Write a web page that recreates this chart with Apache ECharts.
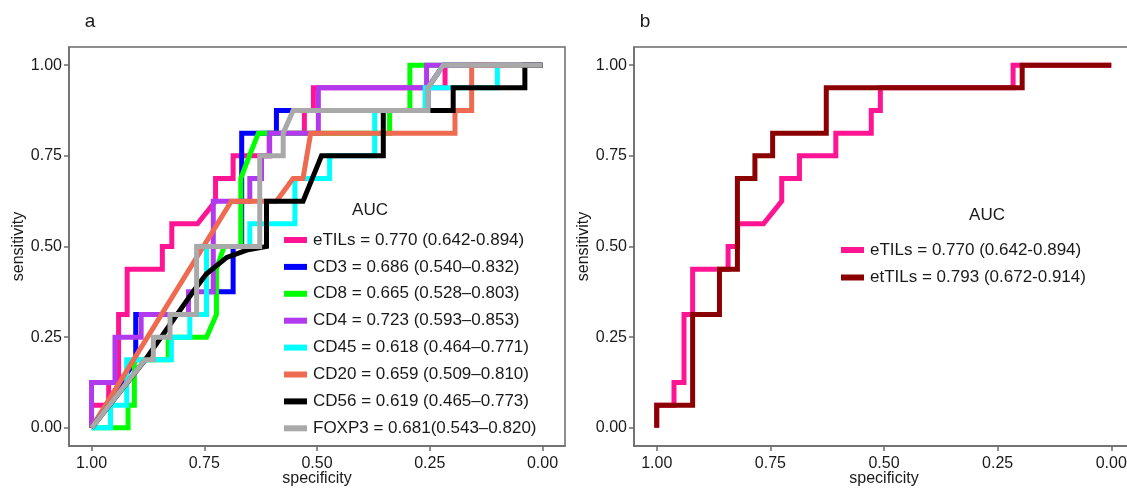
<!DOCTYPE html>
<html>
<head>
<meta charset="utf-8">
<script src="https://cdn.jsdelivr.net/npm/echarts@6/dist/echarts.min.js"></script>
<style>
html,body{margin:0;padding:0;background:#fff;}
#chart{width:1127px;height:488px;}
</style>
</head>
<body>
<div id="chart"></div>
<script>
// ---- tick labels ----
const tickValues = [0, 0.25, 0.5, 0.75, 1];

// ---- legend labels ----
const labelETILs = "eTILs = 0.770 (0.642-0.894)";
const labelCD3 = "CD3 = 0.686 (0.540\u20130.832)";
const labelCD8 = "CD8 = 0.665 (0.528\u20130.803)";
const labelCD4 = "CD4 = 0.723 (0.593\u20130.853)";
const labelCD45 = "CD45 = 0.618 (0.464\u20130.771)";
const labelCD20 = "CD20 = 0.659 (0.509\u20130.810)";
const labelCD56 = "CD56 = 0.619 (0.465\u20130.773)";
const labelFOXP3 = "FOXP3 = 0.681(0.543\u20130.820)";
const labelEtTILs = "etTILs = 0.793 (0.672-0.914)";

// ---- ROC curves: specificity / sensitivity ----
const eTILsSpec = [1.000,1.000,0.962,0.962,0.940,0.940,0.921,0.921,0.843,0.843,0.822,0.822,0.765,0.725,0.725,0.686,0.686,0.606,0.606,0.528,0.528,0.508,0.508,0.216,0.216,0.000];
const eTILsSens = [0,0.0625,0.0625,0.125,0.125,0.3125,0.3125,0.4375,0.4375,0.5,0.5,0.5625,0.5625,0.625,0.6875,0.6875,0.75,0.75,0.8125,0.8125,0.875,0.875,0.9375,0.9375,1,1];

const cd3Spec = [1.000,0.902,0.902,0.745,0.745,0.686,0.686,0.667,0.667,0.590,0.590,0.254,0.254,0.220,0.000];
const cd3Sens = [0,0.1875,0.3125,0.3125,0.375,0.375,0.5,0.5,0.8125,0.8125,0.875,0.875,0.9375,1,1];

const cd8Spec = [1.000,0.919,0.919,0.905,0.905,0.830,0.830,0.745,0.723,0.723,0.706,0.669,0.669,0.650,0.630,0.339,0.339,0.294,0.294,0.000];
const cd8Sens = [0,0,0.0625,0.0625,0.1875,0.1875,0.25,0.25,0.3125,0.4375,0.5,0.5,0.6875,0.75,0.8125,0.8125,0.875,0.875,1,1];

const cd4Spec = [1.000,1.000,0.948,0.948,0.890,0.890,0.785,0.785,0.730,0.730,0.649,0.649,0.623,0.623,0.605,0.605,0.497,0.497,0.257,0.257,0.000];
const cd4Sens = [0,0.125,0.125,0.25,0.25,0.3125,0.3125,0.375,0.375,0.625,0.625,0.6875,0.6875,0.75,0.75,0.8125,0.8125,0.9375,0.9375,1,1];

const cd45Spec = [1.000,0.958,0.958,0.922,0.922,0.823,0.823,0.782,0.782,0.745,0.745,0.649,0.649,0.549,0.549,0.472,0.472,0.372,0.372,0.260,0.260,0.100,0.100,0.000];
const cd45Sens = [0,0,0.0625,0.0625,0.1875,0.1875,0.25,0.25,0.3125,0.3125,0.5,0.5,0.5625,0.5625,0.6875,0.6875,0.75,0.75,0.875,0.875,0.9375,0.9375,1,1];

const cd20Spec = [1.000,0.690,0.590,0.553,0.531,0.514,0.194,0.194,0.157,0.157,0.000];
const cd20Sens = [0,0.625,0.625,0.6875,0.6875,0.8125,0.8125,0.875,0.875,1,1];

const cd56Spec = [1.000,0.881,0.775,0.745,0.700,0.656,0.612,0.612,0.531,0.490,0.353,0.353,0.198,0.198,0.039,0.039,0.000];
const cd56Sens = [0,0.1875,0.375,0.425,0.47,0.49,0.5,0.625,0.625,0.75,0.75,0.875,0.875,0.9375,0.9375,1,1];

const foxp3Spec = [1.000,0.882,0.863,0.863,0.826,0.826,0.767,0.767,0.627,0.627,0.575,0.575,0.553,0.254,0.254,0.220,0.000];
const foxp3Sens = [0,0.1875,0.1875,0.25,0.25,0.3125,0.3125,0.5,0.5,0.75,0.75,0.8125,0.875,0.875,0.9375,1,1];

const etTILsSpec = [1.000,1.000,0.921,0.921,0.862,0.862,0.8225,0.8225,0.784,0.784,0.745,0.745,0.627,0.627,0.196,0.196,0.000];
const etTILsSens = [0,0.0625,0.0625,0.3125,0.3125,0.4375,0.4375,0.6875,0.6875,0.75,0.75,0.8125,0.8125,0.9375,0.9375,1,1];

// ---- build ----
const FONT = 'Arial, "Liberation Sans", Helvetica, sans-serif';
const frameColor = '#6b6b6b';
const textColor = '#1a1a1a';

function pts(spec, sens) { return spec.map((s, i) => [s, sens[i]]); }

function line(name, spec, sens, color, gi) {
  return {
    type: 'line', name: name, xAxisIndex: gi, yAxisIndex: gi,
    data: pts(spec, sens), showSymbol: false, symbol: 'none',
    lineStyle: { color: color, width: 5, join: 'miter', cap: 'butt' },
    itemStyle: { color: color },
    emphasis: { disabled: true }, animation: false
  };
}

function xAx(gi) {
  return {
    gridIndex: gi, type: 'value', inverse: true, min: -0.05, max: 1.05,
    axisLine: { show: true, onZero: false, lineStyle: { color: frameColor, width: 1.5 } },
    axisTick: { show: true, customValues: tickValues, length: 5, lineStyle: { color: frameColor, width: 1.5 } },
    axisLabel: { customValues: tickValues, formatter: v => v.toFixed(2), fontSize: 16, color: textColor, margin: 10, fontFamily: FONT },
    splitLine: { show: false },
    name: 'specificity', nameLocation: 'middle', nameGap: 33, nameMoveOverlap: false,
    nameTextStyle: { fontSize: 16, color: textColor, fontFamily: FONT, verticalAlign: 'middle' }
  };
}
function yAx(gi) {
  return {
    gridIndex: gi, type: 'value', min: -0.05, max: 1.05,
    axisLine: { show: true, onZero: false, lineStyle: { color: frameColor, width: 1.5 } },
    axisTick: { show: true, customValues: tickValues, length: 5, lineStyle: { color: frameColor, width: 1.5 } },
    axisLabel: { customValues: tickValues, formatter: v => v.toFixed(2), fontSize: 16, color: textColor, margin: 7, fontFamily: FONT },
    splitLine: { show: false },
    name: 'sensitivity', nameLocation: 'middle', nameGap: 42, nameMoveOverlap: false,
    nameTextStyle: { fontSize: 16, color: textColor, fontFamily: FONT }
  };
}

const legendCommon = {
  orient: 'vertical', itemWidth: 23, itemHeight: 6, icon: 'rect',
  selectedMode: false,
  textStyle: { fontSize: 17, color: textColor, fontFamily: FONT, lineHeight: 20, padding: [0, 0, 0, 1] }
};

const option = {
  animation: false,
  backgroundColor: '#ffffff',
  grid: [
    { left: 69, top: 47, width: 496, height: 399, show: true, borderColor: frameColor, borderWidth: 1.5, backgroundColor: 'transparent', outerBoundsMode: 'none', containLabel: false },
    { left: 634, top: 47, width: 500, height: 399, show: true, borderColor: frameColor, borderWidth: 1.5, backgroundColor: 'transparent', outerBoundsMode: 'none', containLabel: false }
  ],
  xAxis: [xAx(0), xAx(1)],
  yAxis: [yAx(0), yAx(1)],
  legend: [
    Object.assign({}, legendCommon, {
      left: 279, top: 225, itemGap: 6.9,
      data: [labelETILs, labelCD3, labelCD8, labelCD4, labelCD45, labelCD20, labelCD56, labelFOXP3]
    }),
    Object.assign({}, legendCommon, {
      left: 836, top: 235, itemGap: 7.5,
      data: [labelETILs, labelEtTILs]
    })
  ],
  graphic: [
    { type: 'text', x: 90, y: 22, style: { text: 'a', fontSize: 19, fill: textColor, fontFamily: FONT, textAlign: 'center', textVerticalAlign: 'middle', verticalAlign: 'middle' } },
    { type: 'text', x: 645, y: 22, style: { text: 'b', fontSize: 19, fill: textColor, fontFamily: FONT, textAlign: 'center', textVerticalAlign: 'middle', verticalAlign: 'middle' } },
    { type: 'text', x: 370, y: 210, style: { text: 'AUC', fontSize: 17, fill: textColor, fontFamily: FONT, textAlign: 'center', textVerticalAlign: 'middle', verticalAlign: 'middle' } },
    { type: 'text', x: 987, y: 215, style: { text: 'AUC', fontSize: 17, fill: textColor, fontFamily: FONT, textAlign: 'center', textVerticalAlign: 'middle', verticalAlign: 'middle' } }
  ],
  series: [
    line(labelETILs, eTILsSpec, eTILsSens, '#FF1493', 0),
    line(labelCD3, cd3Spec, cd3Sens, '#0000FF', 0),
    line(labelCD8, cd8Spec, cd8Sens, '#00FF00', 0),
    line(labelCD4, cd4Spec, cd4Sens, '#B23AEE', 0),
    line(labelCD45, cd45Spec, cd45Sens, '#00FFFF', 0),
    line(labelCD20, cd20Spec, cd20Sens, '#EE6A50', 0),
    line(labelCD56, cd56Spec, cd56Sens, '#000000', 0),
    line(labelFOXP3, foxp3Spec, foxp3Sens, '#A9A9A9', 0),
    line(labelETILs, eTILsSpec, eTILsSens, '#FF1493', 1),
    line(labelEtTILs, etTILsSpec, etTILsSens, '#8B0000', 1)
  ]
};

const chart = echarts.init(document.getElementById('chart'), null, { renderer: 'canvas' });
chart.setOption(option);
</script>
</body>
</html>
